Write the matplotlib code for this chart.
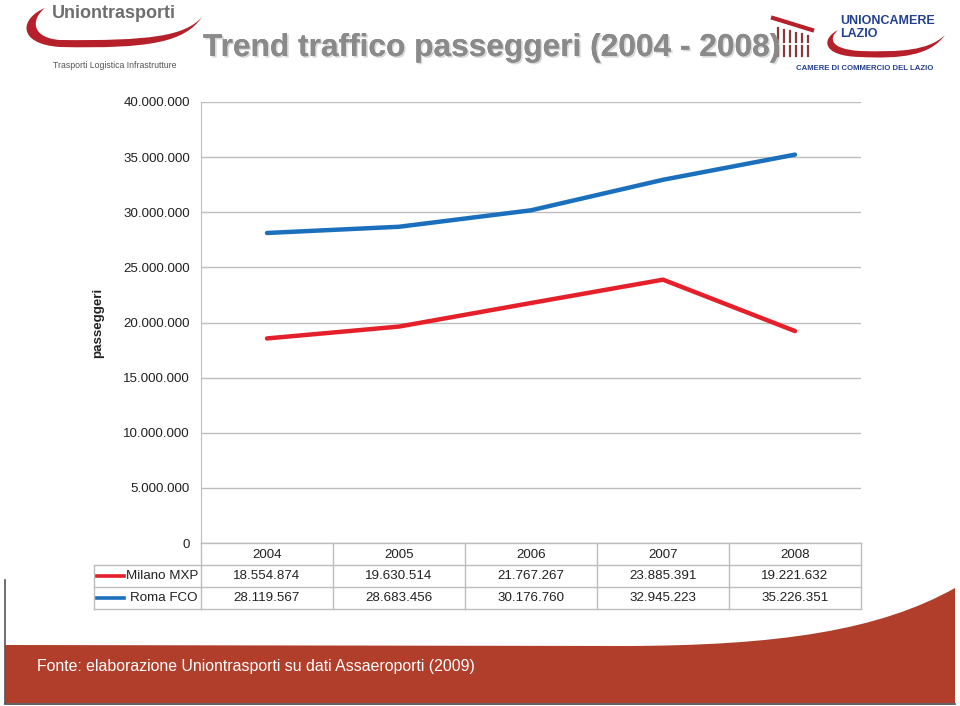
import matplotlib
matplotlib.use("Agg")
import matplotlib.pyplot as plt
import matplotlib.patheffects as pe
from matplotlib.transforms import blended_transform_factory
from matplotlib.path import Path
from matplotlib.patches import PathPatch
import numpy as np

plt.rcParams['font.family'] = ['Liberation Sans', 'DejaVu Sans']

years = ["2004", "2005", "2006", "2007", "2008"]
series_names = ["Milano MXP", "Roma FCO"]
milano = [18554874, 19630514, 21767267, 23885391, 19221632]
roma = [28119567, 28683456, 30176760, 32945223, 35226351]
series_values = [milano, roma]
series_colors = ["#E5202A", "#1B70BE"]
y_ticks = [0, 5000000, 10000000, 15000000, 20000000, 25000000, 30000000, 35000000, 40000000]

title = "Trend traffico passeggeri (2004 - 2008)"
y_label = "passeggeri"
source = "Fonte: elaborazione Uniontrasporti su dati Assaeroporti (2009)"


def fmt(v):
    return f"{v:,}".replace(",", ".")


W, H = 960, 706
fig = plt.figure(figsize=(W / 100, H / 100), dpi=100)
fig.patch.set_facecolor("white")

# background overlay in pixel coordinates
bg = fig.add_axes([0, 0, 1, 1], zorder=0)
bg.set_xlim(0, W)
bg.set_ylim(H, 0)
bg.axis("off")

# footer band with curved right edge
verts = [(5, 645), (620, 646), (780, 646), (880, 630), (955, 588), (955, 703), (5, 703), (5, 645)]
codes = [Path.MOVETO, Path.LINETO, Path.CURVE4, Path.CURVE4, Path.CURVE4, Path.LINETO, Path.LINETO, Path.CLOSEPOLY]
bg.add_patch(PathPatch(Path(verts, codes), facecolor="#B03E2A", edgecolor="none"))
bg.plot([5, 5], [580, 703], color="#555555", lw=1.2)
bg.plot([5, 955], [703.5, 703.5], color="#444444", lw=1.2)
bg.text(37, 667, source, color="white", fontsize=11.4, va="center", ha="left")

# left logo (Uniontrasporti)
lv = [(45, 8), (20, 18), (16, 44), (60, 47), (150, 49), (185, 42), (202, 17),
      (185, 36), (150, 41), (60, 40), (32, 38), (30, 20), (45, 8)]
lc = [Path.MOVETO, Path.CURVE4, Path.CURVE4, Path.CURVE4, Path.CURVE4, Path.CURVE4, Path.CURVE4,
      Path.CURVE4, Path.CURVE4, Path.CURVE4, Path.CURVE4, Path.CURVE4, Path.CURVE4]
bg.add_patch(PathPatch(Path(lv, lc), facecolor="#B5202A", edgecolor="none"))
bg.text(52, 13, "Uniontrasporti", color="#6E6E6E", fontsize=13, fontweight="bold", va="center", ha="left")
bg.text(53, 66, "Trasporti Logistica Infrastrutture", color="#555555", fontsize=6.3, va="center", ha="left")

# right logo (Unioncamere Lazio)
rv = [(838, 30), (822, 38), (820, 56), (860, 57), (900, 59), (930, 56), (945, 35),
      (928, 51), (900, 52), (860, 51), (829, 49), (829, 38), (838, 30)]
bg.add_patch(PathPatch(Path(rv, lc), facecolor="#B5202A", edgecolor="none"))
bg.plot([773, 812], [18, 30], color="#B5202A", lw=3)
for i, xx in enumerate(np.linspace(778, 808, 6)):
    bg.plot([xx, xx], [28 + i * 1.5, 42], color="#8A3A3A", lw=1.6)
    bg.plot([xx, xx], [46, 56], color="#8A3A3A", lw=1.6)
bg.text(840, 21, "UNIONCAMERE", color="#24418F", fontsize=9, fontweight="bold", va="center", ha="left")
bg.text(840, 34, "LAZIO", color="#24418F", fontsize=9, fontweight="bold", va="center", ha="left")
bg.text(796, 68, "CAMERE DI COMMERCIO DEL LAZIO", color="#24418F", fontsize=5.6, fontweight="bold", va="center", ha="left")

# title
bg.text(203, 48, title, color="#8A8A8A", fontsize=22.8, fontweight="bold", va="center", ha="left",
        path_effects=[pe.withSimplePatchShadow(offset=(1.2, -1.2), shadow_rgbFace="#b5b5b5", alpha=0.5),
                      pe.Normal()], zorder=5)

# main chart axes
px_left, px_right, px_top, px_bottom = 201, 861, 102, 543
ax = fig.add_axes([px_left / W, 1 - px_bottom / H, (px_right - px_left) / W, (px_bottom - px_top) / H], zorder=2)
ax.patch.set_alpha(0)
x = np.arange(len(years))
for vals, col in zip(series_values, series_colors):
    ax.plot(x, vals, color=col, lw=3.2, solid_capstyle="round", zorder=3)
ax.set_xlim(-0.5, len(years) - 0.5)
ax.set_ylim(0, 40000000)
ax.set_yticks(y_ticks)
ax.set_yticklabels([fmt(t) if t else "0" for t in y_ticks], fontsize=9.6, color="#222222")
ax.set_xticks([])
ax.tick_params(axis="y", length=0, pad=8)
ax.grid(axis="y", color="#BDBDBD", lw=1)
for s in ["top", "right", "bottom"]:
    ax.spines[s].set_visible(False)
ax.spines["left"].set_color("#BDBDBD")
ax.set_ylabel(y_label, fontsize=9.6, fontweight="bold", color="#222222")
ax.yaxis.set_label_coords(-0.146, 0.5)

# data table under the chart (x from data, y in pixels)
tr = blended_transform_factory(ax.transData, bg.transData)
row_edges = [543, 565, 587, 609]
grid_col = "#BDBDBD"
n = len(years)
bg.plot([px_left, px_right], [543, 543], color=grid_col, lw=1)
for yy in row_edges[1:]:
    bg.plot([94, px_right], [yy, yy], color=grid_col, lw=1)
for i in range(n + 1):
    bg.plot([px_left + (px_right - px_left) * i / n] * 2, [543, 609], color=grid_col, lw=1)
bg.plot([94, 94], [565, 609], color=grid_col, lw=1)

for i, yr in enumerate(years):
    ax.text(i, 554.5, yr, transform=tr, ha="center", va="center", fontsize=9.6, color="#222222")
for r, (name, vals, col) in enumerate(zip(series_names, series_values, series_colors)):
    yc = (row_edges[r + 1] + row_edges[r + 2]) / 2
    for i, v in enumerate(vals):
        ax.text(i, yc, fmt(v), transform=tr, ha="center", va="center", fontsize=9.6, color="#222222")
    bg.plot([97, 124], [yc, yc], color=col, lw=2.6)
    bg.text(198, yc, name, ha="right", va="center", fontsize=9.6, color="#222222")

fig.savefig("out.png", dpi=100)
